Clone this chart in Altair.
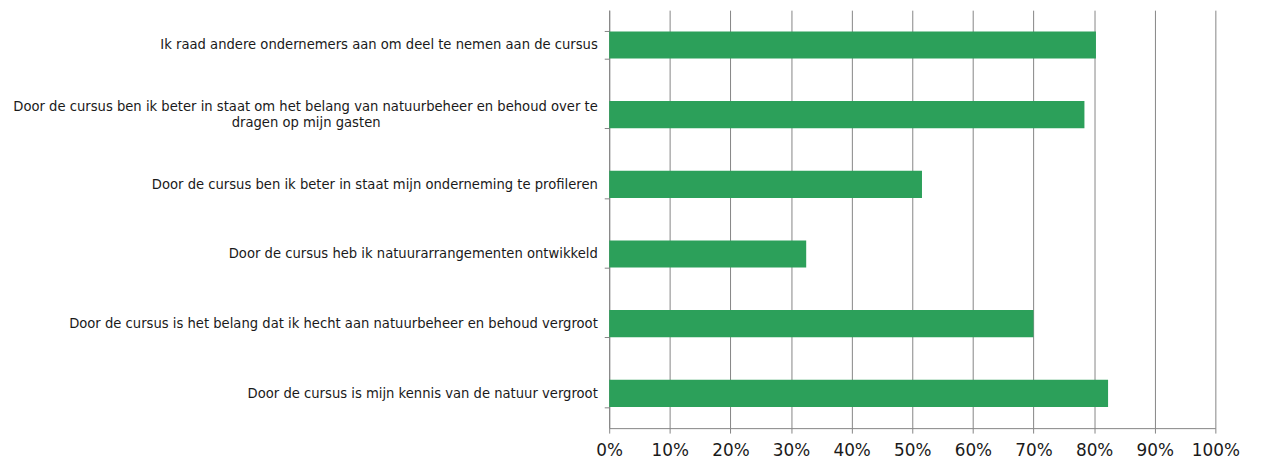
import altair as alt
import pandas as pd

categories = [
    "Ik raad andere ondernemers aan om deel te nemen aan de cursus",
    "Door de cursus ben ik beter in staat om het belang van natuurbeheer en behoud over te dragen op mijn gasten",
    "Door de cursus ben ik beter in staat mijn onderneming te profileren",
    "Door de cursus heb ik natuurarrangementen ontwikkeld",
    "Door de cursus is het belang dat ik hecht aan natuurbeheer en behoud vergroot",
    "Door de cursus is mijn kennis van de natuur vergroot",
]
label_line1 = [
    "Ik raad andere ondernemers aan om deel te nemen aan de cursus",
    "Door de cursus ben ik beter in staat om het belang van natuurbeheer en behoud over te",
    "Door de cursus ben ik beter in staat mijn onderneming te profileren",
    "Door de cursus heb ik natuurarrangementen ontwikkeld",
    "Door de cursus is het belang dat ik hecht aan natuurbeheer en behoud vergroot",
    "Door de cursus is mijn kennis van de natuur vergroot",
]
label_line2 = ["", "dragen op mijn gasten", "", "", "", ""]
values = [0.803, 0.784, 0.516, 0.325, 0.700, 0.823]
tick_values = [0, 0.1, 0.2, 0.3, 0.4, 0.5, 0.6, 0.7, 0.8, 0.9, 1.0]

df = pd.DataFrame({"cat": categories, "val": values, "line2": label_line2})

FONT = "DejaVu Sans"
GRAY = "#858585"
TEXT = "#1a1a1a"
GREEN = "#2ca05a"

# first line only in the axis label; wrapped second line drawn centred below
parts = []
wrapped_tests = []
for c, l1, l2 in zip(categories, label_line1, label_line2):
    if l2:
        parts.append(f"datum.value == {c!r} ? {l1!r} : ")
        wrapped_tests.append(f"datum.value == {c!r}")
label_expr = "".join(parts) + "datum.value"
wrapped_test = " || ".join(wrapped_tests)

y_enc = alt.Y(
    "cat:N",
    sort=categories,
    title=None,
    scale=alt.Scale(paddingInner=0.61, paddingOuter=0.305),
    axis=alt.Axis(
        labelExpr=label_expr,
        labelFont=FONT,
        labelFontSize=13.3,
        labelColor=TEXT,
        labelLimit=0,
        labelPadding=7,
        labelOffset={"condition": {"test": wrapped_test, "value": -8}, "value": 0},
        tickSize=5,
        tickColor=GRAY,
        domainColor=GRAY,
        tickBand="extent",
        grid=False,
    ),
)

bars = alt.Chart(df).mark_bar(color=GREEN).encode(
    x=alt.X(
        "val:Q",
        title=None,
        scale=alt.Scale(domain=[0, 1], nice=False),
        axis=alt.Axis(
            values=tick_values,
            format=".0%",
            labelFont=FONT,
            labelFontSize=17,
            labelColor=TEXT,
            labelPadding=10,
            labelOverlap=False,
            labelFlush=False,
            tickSize=5,
            tickColor=GRAY,
            domainColor=GRAY,
            grid=True,
            gridColor=GRAY,
            gridWidth=1,
        ),
    ),
    y=y_enc,
)

second = alt.Chart(df).transform_filter("datum.line2 != ''").mark_text(
    align="center", baseline="middle", font=FONT, fontSize=13.3, color=TEXT, dy=8
).encode(
    x=alt.value(-306),
    y=alt.Y("cat:N", sort=categories),
    text="line2:N",
)

chart = (
    alt.layer(bars, second)
    .properties(
        width=612,
        height=422,
        autosize="none",
        padding={"left": 607, "top": 0, "right": 38, "bottom": 33},
    )
    .configure_view(strokeWidth=0)
)

chart.save("out.html", embed_options={"renderer": "svg", "actions": False})
